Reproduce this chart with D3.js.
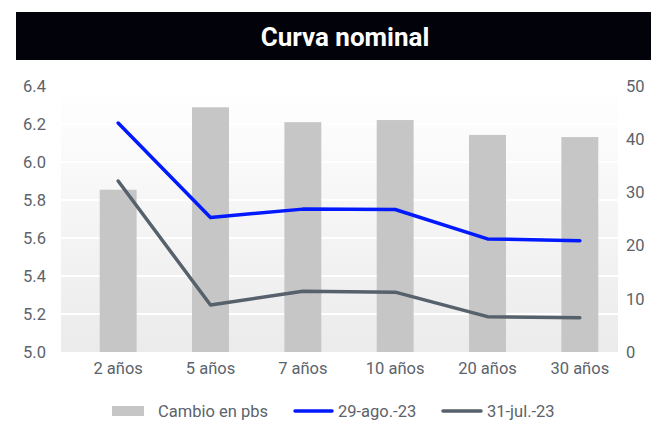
<!DOCTYPE html>
<html>
<head>
<meta charset="utf-8">
<script src="https://cdn.jsdelivr.net/npm/d3@7"></script>
<style>
  body { margin: 0; background: #fff; }
  text { font-family: Roboto, "Liberation Sans", sans-serif; }
</style>
</head>
<body>
<div id="chart"></div>
<script>
// data
const plazos = ["2 años", "5 años", "7 años", "10 años", "20 años", "30 años"];
const cambioPbs = [30.5, 46.0, 43.2, 43.6, 40.8, 40.4];
const tasaAgo = [6.205, 5.708, 5.752, 5.750, 5.595, 5.586];
const tasaJul = [5.900, 5.247, 5.320, 5.315, 5.186, 5.180];
const ticksIzq = [5.0, 5.2, 5.4, 5.6, 5.8, 6.0, 6.2, 6.4];
const ticksDer = [0, 10, 20, 30, 40, 50];
const titulo = "Curva nominal";
const leyenda = ["Cambio en pbs", "29-ago.-23", "31-jul.-23"];

const width = 651, height = 422;
const plot = { left: 61, right: 618, top: 86, bottom: 352 };
const azul = "#0019ff", gris = "#56616b", barra = "#c6c6c6", txt = "#5b636b";
const fs = 16.5;

const svg = d3.select("#chart").append("svg")
    .attr("width", width)
    .attr("height", height);

// title bar
svg.append("rect")
    .attr("x", 16).attr("y", 12)
    .attr("width", width - 16).attr("height", 48)
    .attr("fill", "#02020a");
svg.append("text")
    .attr("x", 345).attr("y", 46)
    .attr("text-anchor", "middle")
    .attr("fill", "#fff")
    .attr("font-size", 26)
    .attr("font-weight", 700)
    .text(titulo);

// background gradient
const grad = svg.append("defs").append("linearGradient")
    .attr("id", "bg").attr("x1", 0).attr("y1", 0).attr("x2", 0).attr("y2", 1);
grad.append("stop").attr("offset", "0%").attr("stop-color", "#ffffff");
grad.append("stop").attr("offset", "100%").attr("stop-color", "#ebebeb");

svg.append("rect")
    .attr("x", plot.left).attr("y", plot.top)
    .attr("width", plot.right - plot.left)
    .attr("height", plot.bottom - plot.top)
    .attr("fill", "url(#bg)");

let x = d3.scaleBand().domain(plazos).range([72, 626]).paddingInner(0.6).paddingOuter(0.3);
let yL = d3.scaleLinear().domain([5.0, 6.4]).range([plot.bottom, plot.top]);
let yR = d3.scaleLinear().domain([0, 50]).range([plot.bottom, plot.top]);

// gridlines
svg.selectAll("line.grid")
    .data(ticksIzq.slice(1, -1))
    .join("line")
    .attr("class", "grid")
    .attr("x1", plot.left).attr("x2", plot.right)
    .attr("y1", d => yL(d)).attr("y2", d => yL(d))
    .attr("stroke", "#fff")
    .attr("stroke-width", 2);

// bars
svg.selectAll("rect.bar")
    .data(cambioPbs)
    .join("rect")
    .attr("class", "bar")
    .attr("x", (d, i) => x(plazos[i]))
    .attr("y", d => yR(d))
    .attr("width", x.bandwidth())
    .attr("height", d => yR(0) - yR(d))
    .attr("fill", barra);

// lines
const linea = d3.line()
    .x((d, i) => x(plazos[i]) + x.bandwidth() / 2)
    .y(d => yL(d));

[[tasaJul, gris], [tasaAgo, azul]].forEach(([serie, color]) => {
    svg.append("path")
        .datum(serie)
        .attr("d", linea)
        .attr("fill", "none")
        .attr("stroke", color)
        .attr("stroke-width", 3.5)
        .attr("stroke-linecap", "round")
        .attr("stroke-linejoin", "round");
});

// axes
const axisL = svg.append("g")
    .attr("transform", "translate(46,0)")
    .call(d3.axisLeft(yL).tickValues(ticksIzq).tickFormat(d3.format(".1f")).tickSize(0).tickPadding(0));
const axisR = svg.append("g")
    .attr("transform", "translate(626,0)")
    .call(d3.axisRight(yR).tickValues(ticksDer).tickSize(0).tickPadding(0));
const axisX = svg.append("g")
    .attr("transform", `translate(0,${plot.bottom})`)
    .call(d3.axisBottom(x).tickSize(0).tickPadding(10));

[axisL, axisR, axisX].forEach(g => {
    g.select(".domain").remove();
    g.selectAll("text")
        .attr("fill", txt)
        .attr("font-size", fs)
        .attr("font-family", "Roboto, sans-serif");
});

// legend
const ly = 411;
svg.append("rect")
    .attr("x", 112).attr("y", ly - 5)
    .attr("width", 32).attr("height", 10)
    .attr("fill", barra);
svg.append("line")
    .attr("x1", 295).attr("x2", 332).attr("y1", ly).attr("y2", ly)
    .attr("stroke", azul).attr("stroke-width", 3.5).attr("stroke-linecap", "round");
svg.append("line")
    .attr("x1", 443).attr("x2", 481).attr("y1", ly).attr("y2", ly)
    .attr("stroke", gris).attr("stroke-width", 3.5).attr("stroke-linecap", "round");

svg.selectAll("text.leg")
    .data(leyenda)
    .join("text")
    .attr("class", "leg")
    .attr("x", (d, i) => [158, 338, 487][i])
    .attr("y", ly + 6)
    .attr("fill", txt)
    .attr("font-size", fs)
    .text(d => d);
</script>
</body>
</html>
